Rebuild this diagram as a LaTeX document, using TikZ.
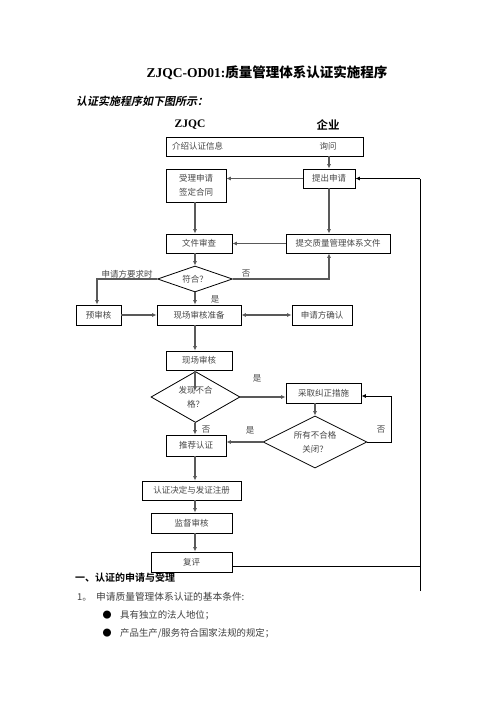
\documentclass[tikz,border=0pt]{standalone}
\usepackage{fontspec}
\setmainfont{Liberation Serif}
\newfontfamily\cjk{Noto Sans CJK SC}
\newfontfamily\cjkb{Noto Sans CJK SC Bold}
\newfontfamily\cjkbi{Noto Sans CJK SC Bold}[FakeSlant=0.2]
\usetikzlibrary{shapes.geometric,arrows.meta,calc}
\begin{document}
\begin{tikzpicture}[x=1pt,y=-1pt,
  box/.style={draw=black, line width=0.8pt, inner sep=0pt, align=center,
    font=\cjk\fontsize{8.5}{14}\selectfont, text=black!72},
  dia/.style={diamond, draw=black, line width=0.8pt, inner sep=0pt, align=center,
    font=\cjk\fontsize{8.5}{14}\selectfont, text=black!72},
  lbl/.style={inner sep=0pt, font=\cjk\fontsize{8.5}{10}\selectfont, text=black!72},
  body/.style={inner sep=0pt, anchor=west, font=\cjk\fontsize{9.4}{11}\selectfont, text=black!75},
  arr/.style={draw=black!65, line width=1.3pt, -{Latex[length=4.5pt,width=4pt]}},
  darr/.style={draw=black!65, line width=1.3pt, {Latex[length=4.5pt,width=4pt]}-{Latex[length=4.5pt,width=4pt]}},
  ln/.style={draw=black, line width=0.9pt}]
\fill[white] (0,0) rectangle (496,702);
\useasboundingbox (0,0) rectangle (496,702);

% titles
\node[inner sep=0pt, font=\bfseries\fontsize{13.5}{16}\selectfont] (title) at (267,73)
  {ZJQC-OD01:{\cjkb 质量管理体系认证实施程序}};
\node[inner sep=0pt, anchor=west, font=\cjkbi\fontsize{11}{13}\selectfont] (sub) at (76,101)
  {认证实施程序如下图所示：};
\node[inner sep=0pt, font=\bfseries\fontsize{11.5}{13}\selectfont] (hz) at (190,125) {ZJQC};
\node[inner sep=0pt, font=\cjkb\fontsize{11.5}{13}\selectfont] (hq) at (328,125) {企业};

% boxes
\node[box, minimum width=197pt, minimum height=19pt] (top) at (264.5,146.5) {};
\node[lbl, anchor=west] (topl) at (172,146.5) {介绍认证信息};
\node[lbl] (topr) at (328,146.5) {询问};
\node[box, minimum width=52pt, minimum height=19pt] (tc) at (329,178.5) {提出申请};
\node[box, minimum width=60pt, minimum height=33pt] (sl) at (196,185.5) {受理申请\\签定合同};
\node[box, minimum width=66pt, minimum height=19pt] (wj) at (199,243.5) {文件审查};
\node[box, minimum width=104pt, minimum height=19pt] (tj) at (338,243.5) {提交质量管理体系文件};
\node[dia, minimum width=75pt, minimum height=26pt, aspect=2.9] (fh) at (195,279) {符合？};
\node[box, minimum width=45pt, minimum height=20pt] (ys) at (98.5,315) {预审核};
\node[box, minimum width=84pt, minimum height=20pt] (xz) at (199,315) {现场审核准备};
\node[box, minimum width=60pt, minimum height=20pt] (qr) at (322,315) {申请方确认};
\node[box, minimum width=66pt, minimum height=19pt] (xc) at (199,360.5) {现场审核};
\node[dia, minimum width=89pt, minimum height=51pt, aspect=1.75] (fx) at (195.5,397) {发现不合\\格？};
\node[box, minimum width=75pt, minimum height=20pt] (cq) at (323.5,393) {采取纠正措施};
\node[box, minimum width=60pt, minimum height=21pt] (tr) at (196,445.5) {推荐认证};
\node[dia, minimum width=104pt, minimum height=52pt, aspect=2] (sy) at (315,442) {所有不合格\\关闭？};
\node[box, minimum width=99pt, minimum height=19pt] (rz) at (191.5,490.5) {认证决定与发证注册};
\node[box, minimum width=81pt, minimum height=20pt] (jd) at (191.5,523) {监督审核};
\node[box, minimum width=81pt, minimum height=20pt] (fp) at (191.5,562) {复评};

% helper coordinates
\coordinate (fbTop) at (420,178.5);
\coordinate (fbBot) at (420,591);
\coordinate (loopR) at (391,396);
\coordinate (col) at (195,0);

% connectors
\draw[arr] (top.south -| tc.north) -- (tc.north);
\draw[arr] (tc.west) -- (sl.east |- tc.west);
\draw[arr] (tc.south) -- (tc.south |- tj.north);
\draw[arr] (sl.south -| col) -- (wj.north -| col);
\draw[arr] (tj.west) -- (wj.east |- tj.west);
\draw[arr] (wj.south -| fh.north) -- (fh.north);
\draw[arr] (fh.west) -| (ys.north -| 97,0);
\draw[arr] (fh.east) -| (tc.south |- tj.south);
\draw[arr] (fh.south) -- (fh.south |- xz.north);
\draw[arr] (ys.east) -- (xz.west);
\draw[darr] (xz.east) -- (qr.west);
\draw[arr] (xz.south -| col) -- (xc.north -| col);
\draw[arr] (xc.south -| col) -- ($(fx.north -| col)+(0,20)$);
\draw[arr] (fx.east) -- (fx.east -| cq.west);
\draw[arr] (fx.south -| col) -- (tr.north -| col);
\draw[arr] (sy.north |- cq.south) -- (sy.north);
\draw[arr] (sy.west) -- (sy.west -| tr.east);
\draw[ln, -{Latex[length=4.5pt,width=4pt]}] (sy.east) -| (loopR) -- (loopR -| cq.east);
\draw[arr] (tr.south -| col) -- (rz.north -| col);
\draw[arr] (rz.south -| col) -- (jd.north -| col);
\draw[arr] (jd.south -| col) -- (fp.north -| col);
\draw[ln] (fp.east |- 0,566) -- (fbBot |- 0,566);
\draw[ln] (fbBot) -- (fbTop);
\draw[ln, -{Latex[length=4.5pt,width=4pt]}] (fbTop) -- (tc.east);

% labels
\node[lbl] (l1) at (127,274) {申请方要求时};
\node[lbl] (l2) at (246,274) {否};
\node[lbl] (l3) at (215,299) {是};
\node[lbl] (l4) at (257,378) {是};
\node[lbl] (l5) at (206,430) {否};
\node[lbl] (l6) at (250,430) {是};
\node[lbl] (l7) at (381,430) {否};

% text below
\node[inner sep=0pt, anchor=west, font=\cjkb\fontsize{10}{12}\selectfont] (h1) at (75,578) {一、认证的申请与受理};
\node[body] (n1) at (77,597) {1。};
\node[body, font=\cjk\fontsize{9.7}{11}\selectfont] (t1) at (96,597) {申请质量管理体系认证的基本条件:};
\node[inner sep=0pt, font=\cjk\fontsize{9}{9}\selectfont] (b1) at (107,615) {●};
\node[body] (t2) at (120,615) {具有独立的法人地位；};
\node[inner sep=0pt, font=\cjk\fontsize{9}{9}\selectfont] (b2) at (107,633) {●};
\node[body] (t3) at (120,633) {产品生产/服务符合国家法规的规定；};
\end{tikzpicture}
\end{document}
